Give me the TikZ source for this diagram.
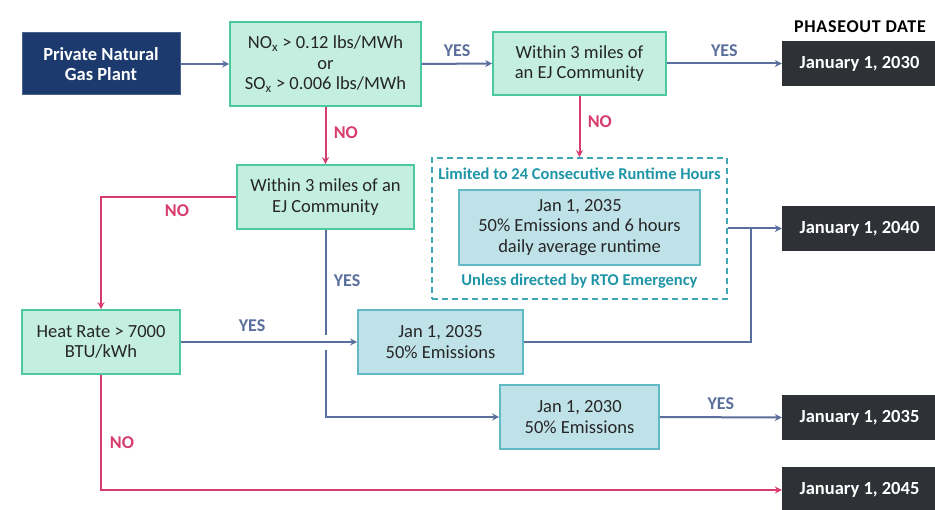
\documentclass[tikz,border=0pt]{standalone}
\usepackage{fontspec}
\setmainfont{Carlito}
\usetikzlibrary{arrows.meta,positioning}

\definecolor{navy}{HTML}{1C3A6E}
\definecolor{mintfill}{HTML}{C3EEE0}
\definecolor{mintline}{HTML}{4DC9A0}
\definecolor{bluefill}{HTML}{BFE2E8}
\definecolor{blueline}{HTML}{62B9C6}
\definecolor{darkbox}{HTML}{2E3136}
\definecolor{yescol}{HTML}{5B6F9C}
\definecolor{nocol}{HTML}{D63C6C}
\definecolor{tealtxt}{HTML}{1E96A8}
\definecolor{textcol}{HTML}{262626}

\newcommand{\boxfont}{\fontsize{18.5}{20.5}\selectfont}

\tikzset{
  basebox/.style={rectangle, align=center, inner sep=2pt, font=\boxfont, text=textcol},
  startbox/.style={basebox, fill=navy, draw=navy!80!white, line width=1pt, text=white, font=\boxfont\bfseries},
  testbox/.style={basebox, fill=mintfill, draw=mintline, line width=1.6pt},
  rulebox/.style={basebox, fill=bluefill, draw=blueline, line width=1.6pt},
  datebox/.style={rectangle, fill=darkbox, text=white, align=center, font=\boxfont\bfseries},
  groupbox/.style={rectangle, draw=tealtxt!85!white, dashed, dash pattern=on 6pt off 4pt, line width=1.8pt},
  yesline/.style={draw=yescol, line width=2pt},
  noline/.style={draw=nocol, line width=2pt},
  yesarrow/.style={yesline, -{Stealth[length=7pt,width=7pt]}},
  noarrow/.style={noline, -{Stealth[length=7pt,width=7pt]}},
  yeslabel/.style={text=yescol, font=\fontsize{18}{20}\selectfont\bfseries},
  nolabel/.style={text=nocol, font=\fontsize{18}{20}\selectfont\bfseries},
  grouptext/.style={text=tealtxt, font=\fontsize{16.5}{19}\selectfont\bfseries},
}

\begin{document}
\begin{tikzpicture}[x=1pt,y=-1pt]
\useasboundingbox (0,0) rectangle (935,510);
\clip (0,0) rectangle (935,510);
\fill[white] (0,0) rectangle (935,510);

% decision boxes
\node[startbox, minimum width=158, minimum height=62] (plant) at (101,64) {Private Natural\\Gas Plant};
\node[testbox, minimum width=191, minimum height=84] (nox) at (325.5,64)
  {NO\textsubscript{x} > 0.12 lbs/MWh\\or\\SO\textsubscript{x} > 0.006 lbs/MWh};
\node[testbox, minimum width=173, minimum height=63] (ej1) at (579.5,63.5) {Within 3 miles of\\an EJ Community};
\node[testbox, minimum width=177, minimum height=64] (ej2) at (325.5,197) {Within 3 miles of an\\EJ Community};
\node[testbox, minimum width=158, minimum height=64] (heat) at (101,342) {Heat Rate > 7000\\BTU/kWh};

% runtime-limited group
\node[groupbox, minimum width=295, minimum height=141] (grp) at (579.5,228.5) {};
\node[grouptext] (grptop) at (579.5,174) {Limited to 24 Consecutive Runtime Hours};
\node[rulebox, minimum width=241, minimum height=75] (rt) at (579.5,227.5)
  {Jan 1, 2035\\50\% Emissions and 6 hours\\daily average runtime};
\node[grouptext] (grpbot) at (579.5,281) {Unless directed by RTO Emergency};

% emission rule boxes
\node[rulebox, minimum width=165, minimum height=64] (r35) at (440.5,342) {Jan 1, 2035\\50\% Emissions};
\node[rulebox, minimum width=159, minimum height=64] (r30) at (579.5,417) {Jan 1, 2030\\50\% Emissions};

% phaseout dates
\node[font=\fontsize{18}{20}\selectfont\bfseries\addfontfeature{LetterSpace=4}, text=black] (head) at (860,27) {PHASEOUT DATE};
\node[datebox, minimum width=155, minimum height=45] (d30) at (859.5,63.5) {January 1, 2030};
\node[datebox, minimum width=155, minimum height=45] (d40) at (859.5,228.5) {January 1, 2040};
\node[datebox, minimum width=155, minimum height=45] (d35) at (859.5,417.5) {January 1, 2035};
\node[datebox, minimum width=155, minimum height=46] (d45) at (859.5,490) {January 1, 2045};

% connectors
\draw[yesarrow] (plant.east) -- (nox.west);
\draw[yesarrow] (nox.east) -- node[yeslabel, above=3pt] (l1) {YES} (ej1.west);
\draw[yesarrow] (ej1.east) -- node[yeslabel, above=3pt] (l2) {YES} (d30.west);
\draw[noarrow] (nox.south) -- node[nolabel, right=4pt, pos=0.45] (l3) {NO} (ej2.north);
\draw[noarrow] (ej1.south) -- node[nolabel, right=4pt, pos=0.42] (l4) {NO} (grp.north);
\draw[noarrow] (ej2.west) -| (heat.north);
\node[nolabel] (l5) at (177,211) {NO};
\draw[yesarrow] (heat.east) -- (r35.west);
\node[yeslabel] (l6) at (252,326) {YES};

% YES path from the second EJ test, hopping over the heat-rate line
\coordinate (hopA) at (325.5,335);
\coordinate (hopB) at (325.5,350);
\draw[yesline] (ej2.south) -- (hopA);
\draw[yesarrow] (hopB) |- (r30.west);
\node[yeslabel] (l7) at (347,281) {YES};

% 2040 merge
\coordinate (merge) at (751,228.5);
\draw[yesline] (r35.east) -| (merge);
\draw[yesarrow] (grp.east) -- (d40.west);

\draw[yesarrow] (r30.east) -- node[yeslabel, above=3pt] (l8) {YES} (d35.west);
\draw[noarrow] (heat.south) |- (d45.west);
\node[nolabel] (l9) at (122,443) {NO};
\end{tikzpicture}
\end{document}
